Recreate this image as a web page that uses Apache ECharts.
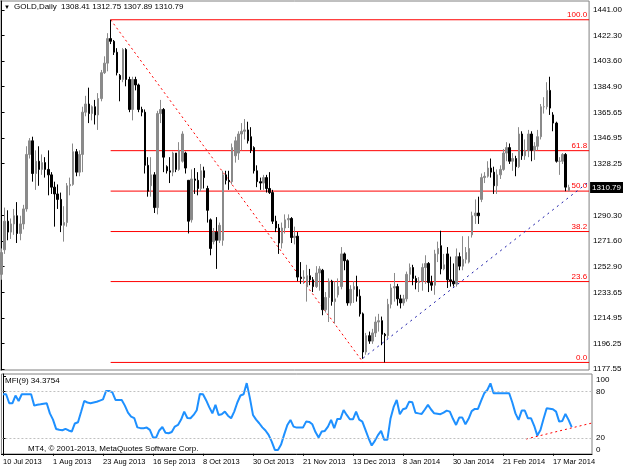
<!DOCTYPE html>
<html><head><meta charset="utf-8">
<script src="https://cdn.jsdelivr.net/npm/echarts@6/dist/echarts.min.js"></script>
<style>html,body{margin:0;padding:0;background:#fff}#c{width:625px;height:469px}</style>
</head><body><div id="c"></div>
<script>
const dates = [
'10 Jul 2013','11 Jul 2013','12 Jul 2013','15 Jul 2013','16 Jul 2013','17 Jul 2013','18 Jul 2013','19 Jul 2013','22 Jul 2013','23 Jul 2013','24 Jul 2013','25 Jul 2013','26 Jul 2013','29 Jul 2013','30 Jul 2013','31 Jul 2013',
'1 Aug 2013','2 Aug 2013','5 Aug 2013','6 Aug 2013','7 Aug 2013','8 Aug 2013','9 Aug 2013','12 Aug 2013','13 Aug 2013','14 Aug 2013','15 Aug 2013','16 Aug 2013','19 Aug 2013','20 Aug 2013','21 Aug 2013','22 Aug 2013','23 Aug 2013','26 Aug 2013','27 Aug 2013','28 Aug 2013','29 Aug 2013','30 Aug 2013',
'2 Sep 2013','3 Sep 2013','4 Sep 2013','5 Sep 2013','6 Sep 2013','9 Sep 2013','10 Sep 2013','11 Sep 2013','12 Sep 2013','13 Sep 2013','16 Sep 2013','17 Sep 2013','18 Sep 2013','19 Sep 2013','20 Sep 2013','23 Sep 2013','24 Sep 2013','25 Sep 2013','26 Sep 2013','27 Sep 2013','30 Sep 2013',
'1 Oct 2013','2 Oct 2013','3 Oct 2013','4 Oct 2013','7 Oct 2013','8 Oct 2013','9 Oct 2013','10 Oct 2013','11 Oct 2013','14 Oct 2013','15 Oct 2013','16 Oct 2013','17 Oct 2013','18 Oct 2013','21 Oct 2013','22 Oct 2013','23 Oct 2013','24 Oct 2013','25 Oct 2013','28 Oct 2013','29 Oct 2013','30 Oct 2013','31 Oct 2013',
'1 Nov 2013','4 Nov 2013','5 Nov 2013','6 Nov 2013','7 Nov 2013','8 Nov 2013','11 Nov 2013','12 Nov 2013','13 Nov 2013','14 Nov 2013','15 Nov 2013','18 Nov 2013','19 Nov 2013','20 Nov 2013','21 Nov 2013','22 Nov 2013','25 Nov 2013','26 Nov 2013','27 Nov 2013','28 Nov 2013','29 Nov 2013',
'2 Dec 2013','3 Dec 2013','4 Dec 2013','5 Dec 2013','6 Dec 2013','9 Dec 2013','10 Dec 2013','11 Dec 2013','12 Dec 2013','13 Dec 2013','16 Dec 2013','17 Dec 2013','18 Dec 2013','19 Dec 2013','20 Dec 2013','23 Dec 2013','24 Dec 2013','26 Dec 2013','27 Dec 2013','30 Dec 2013','31 Dec 2013',
'2 Jan 2014','3 Jan 2014','6 Jan 2014','7 Jan 2014','8 Jan 2014','9 Jan 2014','10 Jan 2014','13 Jan 2014','14 Jan 2014','15 Jan 2014','16 Jan 2014','17 Jan 2014','20 Jan 2014','21 Jan 2014','22 Jan 2014','23 Jan 2014','24 Jan 2014','27 Jan 2014','28 Jan 2014','29 Jan 2014','30 Jan 2014','31 Jan 2014',
'3 Feb 2014','4 Feb 2014','5 Feb 2014','6 Feb 2014','7 Feb 2014','10 Feb 2014','11 Feb 2014','12 Feb 2014','13 Feb 2014','14 Feb 2014','17 Feb 2014','18 Feb 2014','19 Feb 2014','20 Feb 2014','21 Feb 2014','24 Feb 2014','25 Feb 2014','26 Feb 2014','27 Feb 2014','28 Feb 2014',
'3 Mar 2014','4 Mar 2014','5 Mar 2014','6 Mar 2014','7 Mar 2014','10 Mar 2014','11 Mar 2014','12 Mar 2014','13 Mar 2014','14 Mar 2014','17 Mar 2014','18 Mar 2014','19 Mar 2014','20 Mar 2014','21 Mar 2014','24 Mar 2014','25 Mar 2014'];

const open = [1247,1265,1286,1278,1284,1290,1277,1284,1295,1335,1345,1321,1330,1324,1329,1324,
1320,1311,1306,1302,1283,1285,1312,1313,1337,1322,1335,1366,1372,1365,1370,1364,1376,1395,1402,1420,1418,1410,
1393,1390,1412,1390,1368,1390,1386,1368,1366,1327,1312,1320,1296,1365,1368,1326,1323,1322,1336,1324,1330,
1336,1316,1287,1317,1316,1310,1323,1310,1287,1271,1278,1272,1272,1320,1316,1315,1334,1336,1350,1352,1353,1348,1340,
1323,1315,1314,1318,1310,1307,1286,1281,1270,1281,1287,1288,1274,1275,1245,1244,1238,1246,1243,1238,1248,
1250,1221,1230,1242,1227,1232,1238,1262,1257,1226,1236,1238,1231,1218,1190,1202,1198,1204,1212,1213,1203,
1202,1225,1237,1238,1229,1226,1229,1247,1252,1244,1241,1242,1252,1255,1241,1239,1262,1268,1251,1262,1243,1242,
1240,1260,1253,1258,1256,1276,1290,1292,1302,1318,1319,1325,1322,1312,1320,1324,1336,1340,1330,1332,
1326,1350,1334,1338,1350,1338,1341,1348,1370,1370,1382,1364,1358,1330,1330,1335,1308.41];
const high = [1266,1296,1294,1288,1295,1300,1290,1298,1341,1347,1348,1338,1341,1335,1333,1338,
1322,1315,1313,1307,1297,1314,1318,1343,1339,1338,1370,1378,1384,1371,1375,1380,1397,1407,1424,1433.83,1419,1413,
1394,1413,1413,1392,1392,1392,1387,1370,1368,1333,1333,1322,1367,1375,1369,1327,1333,1337,1336,1344,1352,
1337,1316,1324,1325,1322,1328,1326,1312,1288,1281,1289,1285,1323,1323,1323,1343,1348,1352,1358,1361,1359,1355,1341,
1327,1318,1320,1320,1322,1309,1290,1284,1285,1291,1291,1289,1282,1278,1256,1250,1254,1251,1245,1253,1253,
1251,1234,1244,1243,1242,1244,1267,1263,1258,1239,1242,1246,1236,1219,1204,1205,1207,1216,1218,1216,1204,
1229,1240,1248,1240,1232,1232,1249,1255,1254,1246,1245,1255,1261,1256,1246,1265,1271,1279,1262,1267,1260,1255,
1266,1263,1275,1267,1275,1293,1302,1304,1321,1322,1330,1332,1326,1324,1327,1339,1344,1343,1336,1334,
1355,1352,1346,1353,1352,1344,1353,1372,1377,1388,1392,1366,1359,1333,1336,1336,1312.75];
const low = [1243,1262,1272,1273,1276,1270,1272,1280,1293,1332,1315,1309,1312,1320,1318,1305,
1306,1282,1295,1278,1271,1282,1305,1312,1319,1319,1322,1363,1358,1360,1357,1353,1374,1394,1396,1416,1408,1393,
1374,1388,1385,1366,1360,1382,1366,1363,1321,1304,1304,1292,1291,1358,1322,1321,1314,1319,1322,1323,1329,
1321,1277,1285,1306,1305,1308,1310,1285,1261,1269,1251,1270,1268,1313,1309,1313,1329,1331,1338,1346,1343,1336,1321,
1311,1309,1309,1307,1306,1284,1278,1262,1266,1277,1281,1270,1269,1242,1240,1240,1227,1239,1234,1237,1235,
1217,1219,1212,1224,1211,1230,1236,1250,1224,1224,1226,1227,1216,1185,1188,1196,1196,1201,1205,1195,1182.35,
1200,1222,1227,1224,1222,1224,1227,1242,1239,1236,1234,1235,1240,1234,1235,1232,1256,1247,1250,1237,1238,1238,
1238,1250,1250,1255,1255,1274,1284,1284,1300,1314,1318,1318,1306,1306,1317,1323,1330,1328,1323,1319,
1325,1331,1331,1333,1330,1331,1338,1346,1365,1368,1364,1352,1329,1320,1328,1308,1307.89];
const close = [1263,1286,1278,1284,1290,1277,1284,1295,1335,1345,1321,1330,1324,1329,1324,1320,
1311,1306,1302,1283,1285,1312,1313,1337,1322,1335,1366,1372,1365,1370,1364,1376,1395,1402,1420,1418,1410,1395,
1390,1412,1390,1368,1390,1386,1368,1366,1327,1308,1320,1296,1365,1368,1333,1323,1322,1336,1324,1338,1350,
1325,1286,1317,1316,1310,1323,1318,1294,1266,1278,1272,1283,1320,1316,1315,1340,1345,1350,1352,1353,1345,1338,1323,
1315,1314,1318,1310,1307,1286,1281,1270,1281,1287,1288,1274,1275,1245,1244,1245,1246,1243,1238,1248,1251,
1221,1230,1242,1227,1229,1238,1262,1257,1226,1236,1238,1231,1218,1190,1202,1198,1204,1212,1213,1203,1202,
1225,1237,1238,1229,1226,1229,1247,1252,1244,1241,1242,1252,1255,1241,1239,1262,1266,1251,1254,1243,1242,1240,
1260,1253,1258,1263,1266,1290,1292,1290,1318,1319,1325,1322,1312,1320,1324,1336,1340,1330,1332,1326,
1350,1334,1338,1350,1338,1341,1348,1370,1370,1382,1369,1358,1330,1330,1335,1311,1310.79];
const mfi = [76.6,76.6,65,65,75,68,76.6,76.6,76.6,76.6,62,63,63.7,64.5,65,52,
44,32,31,30.3,32,30,28.6,39,40.6,54,68,66,65,66,67,68.5,70,80.9,80.9,79,69.3,69.3,
69.3,62,53,47.9,46,34,33,32.9,33.7,30.7,21,20.9,30,34.5,27,26.4,28,35,37.1,44,54.3,
46,45.7,50,56,77,76.6,69,60,52.1,62.9,50,50.9,54.3,49,45.7,54.3,66,75,76.6,91,72,50,44,
39.3,34,30,24.3,15.7,5,5,12,25,37.1,43.6,35,33.7,33.7,33.7,41.4,41,38,28,
21,28.6,29.4,35,43.6,32.9,44.9,44.9,56.4,50,44.4,44.4,54.3,44,41.4,30.7,20,10.6,16.6,24,29.4,17.9,17.9,
45,60,69.3,50.9,57.3,58.6,67.1,66.3,52.9,52,51.3,57,62.9,57,52.1,51.5,50.9,53,55.6,54.3,45,37.1,
46.6,46.6,38,45,55,57.7,57.7,68,77.9,82.1,90.7,77.9,77.9,77.9,77.9,77.9,77.9,66,52,43.6,
55.6,55.6,45.7,45.7,36,23.4,30.7,45,58.6,58,57.3,54.3,41.4,42.3,51.3,43.6,34.3754];

const emptyBarsRight = 6;
const priceTicks = [1441.00,1422.30,1403.60,1384.90,1365.65,1346.95,1328.25,1290.30,1271.60,1252.90,1233.65,1214.95,1196.25,1177.55];
const mfiTicks = [0,20,80,100];
const mfiLevels = [20,80];
const dateTicks = ['10 Jul 2013','1 Aug 2013','23 Aug 2013','16 Sep 2013','8 Oct 2013','30 Oct 2013','21 Nov 2013','13 Dec 2013','8 Jan 2014','30 Jan 2014','21 Feb 2014','17 Mar 2014'];
const fibHigh = 1433.83, fibLow = 1182.35;
const fibFromBar = 35, fibToBar = 116;
const fibLevels = [0,23.6,38.2,50,61.8,100];
const trendBars = [116, 188.5];
const trendPrices = [1185.5, 1315.1];
const mfiTrendBars = [167.4, 188.5];
const mfiTrendValues = [19.0, 39.6];

const cats = dates.concat(Array(emptyBarsRight).fill(''));
const xMax = cats.length - 0.5;
const n = dates.length;
const candle = dates.map((d,i)=>[open[i],close[i],low[i],high[i]]);
const FONT = 'Liberation Sans';

const series = [];
series.push({
  type:'candlestick', xAxisIndex:0, yAxisIndex:0, data:candle, barWidth:2, silent:true, z:3,
  itemStyle:{color:'#8a8a8a', borderColor:'#8a8a8a', color0:'#000', borderColor0:'#000', borderWidth:1}
});
fibLevels.forEach(lv=>{
  const p = fibLow + (fibHigh-fibLow)*lv/100;
  series.push({type:'line', xAxisIndex:2, yAxisIndex:0, silent:true, symbol:'circle', symbolSize:0.1, z:2,
    itemStyle:{color:'rgba(0,0,0,0)'}, lineStyle:{color:'#ff0000', width:1},
    label:{show:false},
    data:[[fibFromBar,p],{value:[xMax,p], label:{show:true, position:'top', distance:1, align:'right', offset:[-2,0],
      formatter:lv.toFixed(1), color:'#ff0000', fontSize:8, fontFamily:FONT}}]});
});
series.push({type:'line', xAxisIndex:2, yAxisIndex:0, silent:true, symbol:'none', z:2,
  lineStyle:{color:'#ff0000', width:1, type:[2,3]}, data:[[fibFromBar,fibHigh],[fibToBar,fibLow]]});
series.push({type:'line', xAxisIndex:2, yAxisIndex:0, silent:true, symbol:'none', z:4,
  lineStyle:{color:'#1a1aa8', width:1, type:[2,4]}, data:trendBars.map((b,i)=>[b,trendPrices[i]]),
  markLine:{symbol:'none', silent:true, animation:false,
    lineStyle:{color:'rgba(0,0,0,0)', width:0},
    label:{show:true, position:'end', distance:1, formatter:()=>close[n-1].toFixed(2), backgroundColor:'#000', color:'#fff',
      padding:[2,2,1,2], fontSize:8, fontFamily:FONT},
    data:[{yAxis:close[n-1]}]}});
series.push({type:'line', xAxisIndex:1, yAxisIndex:1, silent:true, symbol:'none', data:mfi,
  lineStyle:{color:'#1e90ff', width:2},
  markLine:{symbol:'none', silent:true, label:{show:false}, lineStyle:{color:'#c0c0c0', type:[2,2], width:1},
    data:mfiLevels.map(v=>({yAxis:v}))}});
series.push({type:'line', xAxisIndex:3, yAxisIndex:1, silent:true, symbol:'none',
  lineStyle:{color:'#ff0000', width:1, type:[2,3]}, data:mfiTrendBars.map((b,i)=>[b,mfiTrendValues[i]])});

const txt = {fontFamily:FONT, fontSize:8, color:'#000'};
const option = {
  animation:false,
  backgroundColor:'#fff',
  grid:[
    {left:0, top:1, width:592, height:369, show:true, borderColor:'#808080', borderWidth:1, containLabel:false},
    {left:0, top:374, width:592, height:80, show:true, borderColor:'#808080', borderWidth:1, containLabel:false}
  ],
  xAxis:[
    {type:'category', gridIndex:0, data:cats, boundaryGap:true, axisLine:{show:false}, axisTick:{show:false}, axisLabel:{show:false}, splitLine:{show:false}},
    {type:'category', gridIndex:1, data:cats, boundaryGap:true,
      axisLine:{show:true, lineStyle:{color:'#000'}},
      axisTick:{show:true, alignWithLabel:true, length:2, interval:(i,v)=>dateTicks.includes(v), lineStyle:{color:'#000'}},
      axisLabel:{show:true, interval:(i,v)=>dateTicks.includes(v), align:'left', margin:4, ...txt, fontSize:7.5},
      splitLine:{show:false}},
    {type:'value', gridIndex:0, min:-0.5, max:xMax, show:false},
    {type:'value', gridIndex:1, min:-0.5, max:xMax, show:false}
  ],
  yAxis:[
    {type:'value', gridIndex:0, position:'right', min:1176.8, max:1447.6, splitLine:{show:false},
      axisLine:{show:true, lineStyle:{color:'#000'}},
      axisTick:{show:true, length:3, customValues:priceTicks, lineStyle:{color:'#000'}},
      axisLabel:{show:true, customValues:priceTicks, margin:4, formatter:v=>v.toFixed(2), ...txt}},
    {type:'value', gridIndex:1, position:'right', min:-0.3, max:102.7, splitLine:{show:false},
      axisLine:{show:true, lineStyle:{color:'#000'}},
      axisTick:{show:true, length:3, customValues:mfiTicks, lineStyle:{color:'#000'}},
      axisLabel:{show:true, customValues:mfiTicks, margin:4, ...txt,
        formatter:v=> v===100?'{t|100}': v===0?'{b|0}': String(v),
        rich:{t:{padding:[8,0,0,0], ...txt}, b:{padding:[0,0,8,0], ...txt}}}}
  ],
  graphic:[
    {type:'text', left:4, top:4, style:{text:'\u25BC', fontSize:6, fill:'#000', fontFamily:FONT}},
    {type:'text', left:14, top:3, style:{text:'GOLD,Daily  '+[open[n-1],high[n-1],low[n-1],close[n-1]].map(v=>v.toFixed(2)).join(' '), fontSize:8, fill:'#000', fontFamily:FONT}},
    {type:'text', left:5, top:377, style:{text:'MFI(9) '+mfi[n-1].toFixed(4), fontSize:8, fill:'#000', fontFamily:FONT}},
    {type:'text', left:28, top:445, style:{text:'MT4, \u00A9 2001-2013, MetaQuotes Software Corp.', fontSize:8, fill:'#000', fontFamily:FONT}}
  ],
  series
};
const chart = echarts.init(document.getElementById('c'), null, {renderer:'canvas'});
chart.setOption(option);
</script></body></html>
